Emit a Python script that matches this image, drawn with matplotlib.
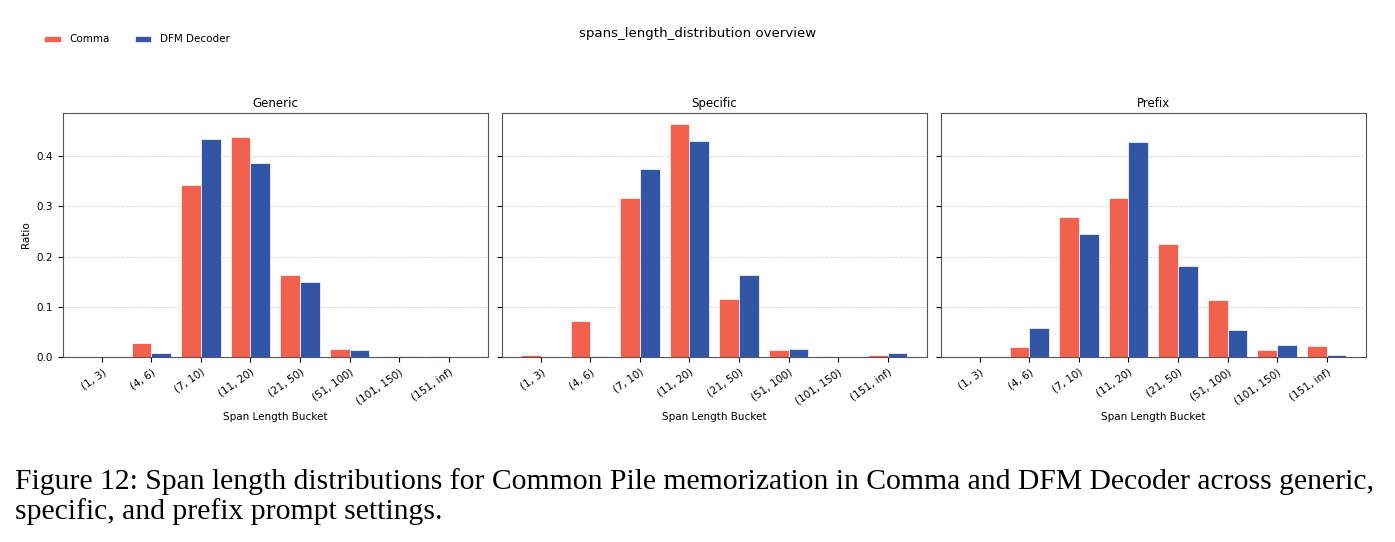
import numpy as np
import matplotlib
matplotlib.use("Agg")
import matplotlib.pyplot as plt

buckets = ["(1, 3)", "(4, 6)", "(7, 10)", "(11, 20)", "(21, 50)", "(51, 100)", "(101, 150)", "(151, inf)"]
panels = ["Generic", "Specific", "Prefix"]

# ratios
comma_generic = [0.0, 0.029, 0.342, 0.438, 0.163, 0.016, 0.003, 0.002]
dfm_generic = [0.0, 0.008, 0.433, 0.387, 0.150, 0.014, 0.002, 0.0005]
comma_specific = [0.004, 0.072, 0.316, 0.463, 0.115, 0.015, 0.003, 0.004]
dfm_specific = [0.0, 0.002, 0.375, 0.429, 0.163, 0.016, 0.0, 0.009]
comma_prefix = [0.0, 0.021, 0.278, 0.316, 0.225, 0.113, 0.015, 0.023]
dfm_prefix = [0.0, 0.058, 0.244, 0.427, 0.181, 0.054, 0.025, 0.004]

comma_vals = [comma_generic, comma_specific, comma_prefix]
dfm_vals = [dfm_generic, dfm_specific, dfm_prefix]

red = "#F2604E"
blue = "#3355A6"

fig, axes = plt.subplots(1, 3, figsize=(13.95, 5.42), dpi=100, sharey=True)
fig.subplots_adjust(left=0.045, right=0.979, top=0.792, bottom=0.341, wspace=0.033)

x = np.arange(len(buckets))
w = 0.4
for i, ax in enumerate(axes):
    ax.bar(x - w / 2, comma_vals[i], w, color=red, edgecolor="white", linewidth=0.5, label="Comma", zorder=3)
    ax.bar(x + w / 2, dfm_vals[i], w, color=blue, edgecolor="white", linewidth=0.5, label="DFM Decoder", zorder=3)
    ax.set_title(panels[i], fontsize=8.5, pad=4)
    ax.set_xticks(x)
    ax.set_xticklabels(buckets, rotation=35, ha="right", fontsize=7.5, rotation_mode="anchor")
    ax.tick_params(axis="y", labelsize=7.5)
    ax.set_xlabel("Span Length Bucket", fontsize=7.5)
    ax.yaxis.grid(True, linestyle="--", color="#cccccc", linewidth=0.6, alpha=0.8, zorder=0)
    ax.set_yticks([0.0, 0.1, 0.2, 0.3, 0.4])
    for s in ax.spines.values():
        s.set_color("#555555")
axes[0].set_ylabel("Ratio", fontsize=7.5)

handles, labels = axes[0].get_legend_handles_labels()
fig.legend(handles, labels, loc="upper left", bbox_to_anchor=(0.025, 0.954), ncol=2,
           frameon=False, fontsize=7.5, handlelength=1.6, handleheight=0.5, columnspacing=2.4)
fig.suptitle("spans_length_distribution overview", fontsize=9.6, y=0.951)

cap = ("Figure 12: Span length distributions for Common Pile memorization in Comma and DFM Decoder across generic,\n"
       "specific, and prefix prompt settings.")
fig.text(0.011, 0.137, cap, fontsize=21.3, family="Liberation Serif", va="top", linespacing=1.17)

fig.savefig("out.png", dpi=100)
